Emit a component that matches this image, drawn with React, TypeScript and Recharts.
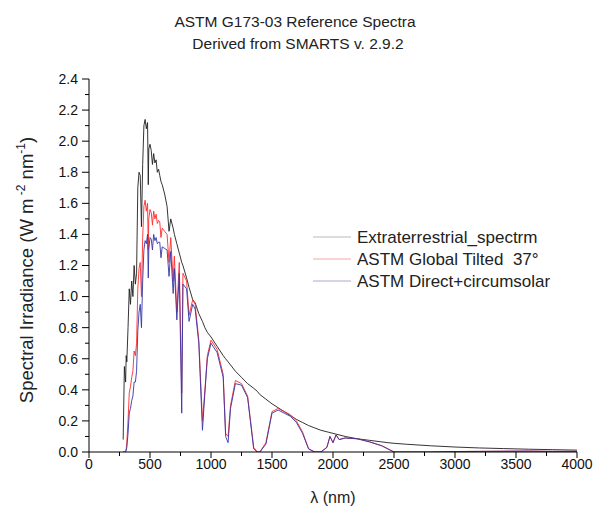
import React from "react"
import { Customized, Line, LineChart, XAxis, YAxis } from "recharts"

// wavelength grid (nm)
const wavelengths = [
  280, 290, 300, 305, 310, 320, 330, 340, 350, 360, 370, 380, 390, 400, 410,
  420, 430, 440, 450, 460, 470, 480, 486, 490, 500, 510, 520, 530, 540, 550, 560,
  570, 580, 590, 600, 620, 640, 656, 670, 690, 700, 720, 740, 760, 770, 800,
  820, 850, 870, 900, 930, 950, 970, 1000, 1050, 1100, 1120, 1140, 1160, 1200,
  1250, 1300, 1350, 1380, 1400, 1450, 1500, 1550, 1600, 1650, 1700, 1750, 1800,
  1850, 1900, 1950, 1975, 2000, 2025, 2050, 2100, 2200, 2300, 2400, 2450, 2500,
  2600, 2800, 3000, 3200, 3400, 3600, 3800, 4000,
]

// W m-2 nm-1
const extraterrestrial = [
  0.08, 0.55, 0.45, 0.62, 0.58, 0.8, 1.05, 0.95, 1.1, 1.0, 1.2, 1.08, 1.15, 1.7, 1.8,
  1.78, 1.45, 1.85, 2.1, 2.14, 2.08, 2.12, 1.72, 1.95, 1.98, 1.94, 1.85, 1.92, 1.86, 1.88, 1.8,
  1.82, 1.78, 1.74, 1.72, 1.66, 1.58, 1.42, 1.5, 1.44, 1.4, 1.34, 1.28, 1.22, 1.2, 1.12,
  1.06, 0.98, 0.96, 0.89, 0.84, 0.8, 0.77, 0.74, 0.68, 0.62, 0.6, 0.58, 0.56, 0.52,
  0.48, 0.44, 0.41, 0.39, 0.37, 0.34, 0.31, 0.285, 0.26, 0.235, 0.21, 0.19, 0.17,
  0.155, 0.14, 0.13, 0.125, 0.12, 0.115, 0.11, 0.1, 0.085, 0.075, 0.065, 0.06, 0.056,
  0.05, 0.04, 0.032, 0.026, 0.022, 0.018, 0.015, 0.012,
]

const globalTilted = [
  0, 0, 0.005, 0.02, 0.06, 0.2, 0.38, 0.42, 0.48, 0.52, 0.65, 0.62, 0.7, 1.05, 1.18,
  1.22, 1.0, 1.38, 1.58, 1.62, 1.55, 1.6, 1.3, 1.5, 1.56, 1.54, 1.46, 1.55, 1.5, 1.53, 1.47,
  1.49, 1.48, 1.38, 1.44, 1.42, 1.4, 1.22, 1.38, 1.1, 1.26, 0.9, 1.22, 0.38, 1.15, 1.1,
  0.88, 0.98, 0.95, 0.72, 0.2, 0.4, 0.62, 0.72, 0.66, 0.5, 0.12, 0.1, 0.3, 0.46,
  0.44, 0.36, 0.03, 0, 0, 0.06, 0.26, 0.28, 0.26, 0.24, 0.2, 0.13, 0.02,
  0, 0, 0.03, 0.1, 0.06, 0.11, 0.08, 0.09, 0.085, 0.065, 0.04, 0.02, 0,
  0, 0, 0.003, 0.004, 0.005, 0.006, 0.004, 0.004,
]

const directCircumsolar = [
  0, 0, 0.002, 0.01, 0.03, 0.12, 0.25, 0.28, 0.33, 0.36, 0.45, 0.45, 0.52, 0.78, 0.9,
  0.95, 0.8, 1.1, 1.3, 1.36, 1.34, 1.4, 1.12, 1.3, 1.38, 1.37, 1.3, 1.4, 1.36, 1.38, 1.34,
  1.35, 1.35, 1.25, 1.32, 1.31, 1.3, 1.13, 1.29, 1.02, 1.18, 0.85, 1.15, 0.25, 1.08, 1.05,
  0.84, 0.95, 0.92, 0.7, 0.14, 0.38, 0.6, 0.7, 0.64, 0.48, 0.1, 0.06, 0.28, 0.44,
  0.43, 0.35, 0.02, 0, 0, 0.05, 0.25, 0.27, 0.25, 0.23, 0.19, 0.12, 0.02,
  0, 0, 0.03, 0.1, 0.06, 0.11, 0.08, 0.09, 0.085, 0.065, 0.04, 0.02, 0,
  0, 0, 0.003, 0.004, 0.005, 0.006, 0.004, 0.004,
]

const xTicks = [0, 250, 500, 750, 1000, 1250, 1500, 1750, 2000, 2250, 2500, 2750, 3000, 3250, 3500, 3750, 4000]
const yTicks = [0, 0.1, 0.2, 0.3, 0.4, 0.5, 0.6, 0.7, 0.8, 0.9, 1.0, 1.1, 1.2, 1.3, 1.4, 1.5, 1.6, 1.7, 1.8, 1.9, 2.0, 2.1, 2.2, 2.3, 2.4]

const seriesNames = ["Extraterrestrial_spectrm", "ASTM Global Tilted\u00a0\u00a037°", "ASTM Direct+circumsolar"]
const legendColors = ["#b9b9b9", "#f6a6a6", "#a9a9d2"]

const data = wavelengths.map((wl, i) => ({
  wl,
  etr: extraterrestrial[i],
  gt: globalTilted[i],
  dc: directCircumsolar[i],
}))

const FONT = "'Liberation Sans', Arial, sans-serif"

const XTick = (props: any) => {
  const { x, y, payload } = props
  const major = payload.value % 500 === 0
  return (
    <g>
      <line x1={x} y1={y} x2={x} y2={y + (major ? 6 : 4)} stroke="#000" />
      {major && (
        <text x={x} y={y + 17} textAnchor="middle" fontSize={14} fontFamily={FONT} fill="#111">
          {payload.value}
        </text>
      )}
    </g>
  )
}

const YTick = (props: any) => {
  const { x, y, payload } = props
  const major = Math.round(payload.value * 10) % 2 === 0
  return (
    <g>
      <line x1={x} y1={y} x2={x - (major ? 7 : 4)} y2={y} stroke="#000" />
      {major && (
        <text x={x - 11} y={y} dy="0.35em" textAnchor="end" fontSize={14} fontFamily={FONT} fill="#111">
          {payload.value.toFixed(1)}
        </text>
      )}
    </g>
  )
}

const Overlay = () => (
  <g fontFamily={FONT} fill="#222">
    <text x={295} y={27} textAnchor="middle" fontSize={15.5}>ASTM G173-03 Reference Spectra</text>
    <text x={298} y={49} textAnchor="middle" fontSize={15.5}>Derived from SMARTS v. 2.9.2</text>
    <text transform="translate(33,270) rotate(-90)" textAnchor="middle" fontSize={18.5}>
      Spectral Irradiance (W m<tspan dy={-8} fontSize={12}>{"\u00a0-2"}</tspan>
      <tspan dy={8}>{"\u00a0nm"}</tspan>
      <tspan dy={-8} fontSize={12}>-1</tspan>
      <tspan dy={8}>)</tspan>
    </text>
    <text x={333} y={503} textAnchor="middle" fontSize={16}>λ (nm)</text>
    {seriesNames.map((name, i) => (
      <g key={name}>
        <line x1={313} x2={351} y1={237 + i * 22} y2={237 + i * 22} stroke={legendColors[i]} strokeWidth={1} />
        <text x={357} y={237 + i * 22} dy="0.35em" fontSize={17}>{name}</text>
      </g>
    ))}
  </g>
)

export default function App() {
  return (
    <div style={{ position: "absolute", left: 0, top: 0, background: "#fff" }}>
      <LineChart width={593} height={507} data={data} margin={{ top: 79, right: 16, left: 49, bottom: 25 }}>
        <XAxis
          dataKey="wl"
          type="number"
          domain={[0, 4000]}
          ticks={xTicks}
          interval={0}
          height={30}
          tickSize={0}
          tickMargin={0}
          tick={<XTick />}
          axisLine={{ stroke: "#000" }}
          allowDataOverflow
        />
        <YAxis
          type="number"
          domain={[0, 2.4]}
          ticks={yTicks}
          interval={0}
          width={40}
          tickSize={0}
          tickMargin={0}
          tick={<YTick />}
          axisLine={{ stroke: "#000" }}
          allowDataOverflow
        />
        <Line type="linear" dataKey="etr" stroke="#1e1e1e" strokeWidth={0.9} dot={false} isAnimationActive={false} />
        <Line type="linear" dataKey="gt" stroke="#ff2a2a" strokeWidth={0.9} dot={false} isAnimationActive={false} />
        <Line type="linear" dataKey="dc" stroke="#3535a8" strokeWidth={0.9} dot={false} isAnimationActive={false} />
        <Customized component={Overlay} />
      </LineChart>
    </div>
  )
}
